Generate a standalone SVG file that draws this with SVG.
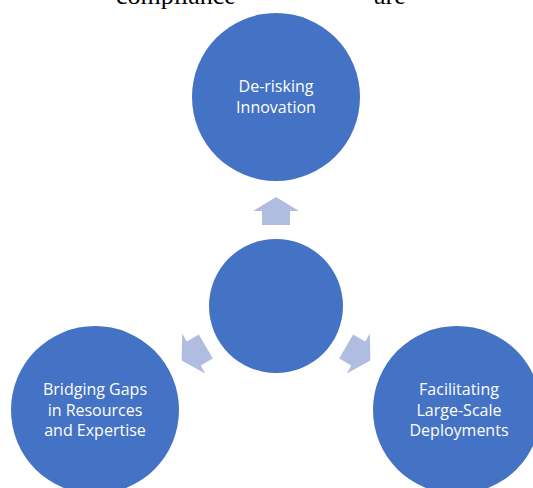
<svg xmlns="http://www.w3.org/2000/svg" width="533" height="488" viewBox="0 0 533 488">
  <style>
    .circ { fill: #4472C4; }
    .arrow { fill: #B0BDE0; }
    .lbl { font-family: "Open Sans", "Liberation Sans", sans-serif; font-size: 16px; fill: #FFFFFF; text-anchor: middle; }
    .bg { font-family: "Liberation Serif", serif; font-size: 26px; fill: #000000; }
  </style>
  <defs>
    <polygon id="arr" points="276,197 299,211 290,211 290,225 262,225 262,211 253,211"/>
  </defs>
  <rect width="533" height="488" fill="#FFFFFF"/>
  <text class="bg" x="116" y="4">compliance</text>
  <text class="bg" x="374" y="4">are</text>
  <g id="connectors">
    <use href="#arr" class="arrow"/>
    <use href="#arr" class="arrow" transform="rotate(-120 276 306)"/>
    <use href="#arr" class="arrow" transform="rotate(120 276 306)"/>
  </g>
  <g id="node-center">
    <circle class="circ" cx="276" cy="306" r="67"/>
  </g>
  <g id="node-top">
    <circle class="circ" cx="276" cy="97" r="84"/>
    <text class="lbl" x="276" y="92">De-risking</text>
    <text class="lbl" x="276" y="113">Innovation</text>
  </g>
  <g id="node-left">
    <circle class="circ" cx="95" cy="410" r="84"/>
    <text class="lbl" x="95" y="395">Bridging Gaps</text>
    <text class="lbl" x="95" y="415.5">in Resources</text>
    <text class="lbl" x="95" y="436">and Expertise</text>
  </g>
  <g id="node-right">
    <circle class="circ" cx="457" cy="410" r="84"/>
    <text class="lbl" x="459" y="395">Facilitating</text>
    <text class="lbl" x="459" y="415.5">Large-Scale</text>
    <text class="lbl" x="459" y="436">Deployments</text>
  </g>
</svg>
